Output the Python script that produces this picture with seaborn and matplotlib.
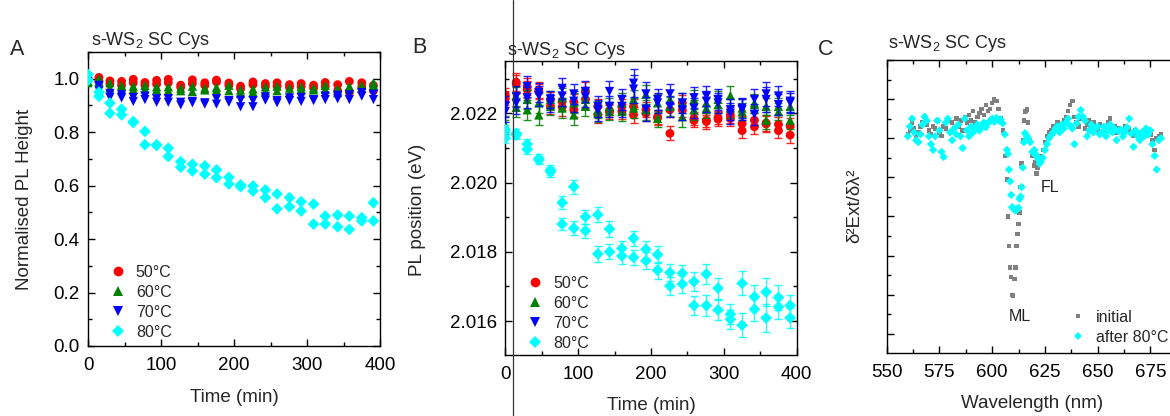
import numpy as np
import pandas as pd
import matplotlib
matplotlib.use("Agg")
import matplotlib.pyplot as plt
import seaborn as sns
from matplotlib.ticker import MultipleLocator
from matplotlib.lines import Line2D

# ---------------- data ----------------
time_min = [0, 15, 30, 46, 62, 78, 94, 110, 127, 143, 160, 176, 193, 209, 226,
            243, 259, 276, 292, 309, 325, 342, 358, 375, 391]
temps = ["50°C", "60°C", "70°C", "80°C"]

# Panel A: normalised PL height (two measurements per time)
height_50_a = [1.00, 1.005, 0.992, 0.99, 0.998, 0.986, 0.994, 0.998, 0.976, 0.996, 0.985, 0.995, 0.984,
               0.972, 0.988, 0.982, 0.985, 0.978, 0.982, 0.976, 0.986, 0.978, 0.99, 0.985, 0.975]
height_50_b = [0.995, 0.99, 0.98, 0.975, 0.985, 0.975, 0.98, 0.985, 0.968, 0.982, 0.975, 0.988, 0.975,
               0.962, 0.978, 0.97, 0.972, 0.968, 0.97, 0.965, 0.972, 0.955, 0.95, 0.97, 0.955]
height_60_a = [0.99, 1.0, 0.985, 0.975, 0.972, 0.975, 0.97, 0.97, 0.965, 0.972, 0.965, 0.968, 0.975,
               0.958, 0.962, 0.97, 0.972, 0.965, 0.97, 0.965, 0.975, 0.962, 0.972, 0.975, 0.985]
height_60_b = [0.985, 0.99, 0.965, 0.96, 0.96, 0.962, 0.958, 0.955, 0.955, 0.952, 0.958, 0.958, 0.955,
               0.945, 0.95, 0.955, 0.955, 0.948, 0.96, 0.958, 0.96, 0.948, 0.962, 0.965, 0.975]
height_70_a = [1.0, 0.975, 0.945, 0.94, 0.93, 0.935, 0.925, 0.925, 0.912, 0.915, 0.91, 0.925, 0.918,
               0.92, 0.918, 0.932, 0.918, 0.928, 0.93, 0.922, 0.935, 0.938, 0.94, 0.948, 0.942]
height_70_b = [0.99, 0.955, 0.93, 0.928, 0.915, 0.922, 0.912, 0.912, 0.902, 0.91, 0.905, 0.905, 0.912,
               0.895, 0.895, 0.92, 0.91, 0.918, 0.915, 0.918, 0.922, 0.925, 0.922, 0.935, 0.922]
height_80_a = [1.016, 0.950, 0.909, 0.886, 0.840, 0.803, 0.753, 0.740, 0.690, 0.680, 0.674, 0.659, 0.631,
               0.603, 0.599, 0.584, 0.569, 0.555, 0.540, 0.531, 0.486, 0.490, 0.486, 0.480, 0.536]
height_80_b = [0.994, 0.934, 0.871, 0.865, 0.836, 0.753, 0.750, 0.709, 0.669, 0.655, 0.643, 0.630, 0.606,
               0.596, 0.580, 0.555, 0.513, 0.521, 0.505, 0.456, 0.456, 0.446, 0.436, 0.468, 0.468]

# Panel B: PL position (eV)
pos_50_a = [2.02253, 2.02290, 2.02277, 2.02267, 2.02239, 2.02234, 2.02234, 2.02265, 2.02220, 2.02208,
            2.02220, 2.02220, 2.02210, 2.02190, 2.02210, 2.02230, 2.02185, 2.02180, 2.02188, 2.02195,
            2.02170, 2.02180, 2.02172, 2.02168, 2.02163]
pos_50_b = [2.02243, 2.02285, 2.02268, 2.02262, 2.02221, 2.02218, 2.02210, 2.02240, 2.02195, 2.02203,
            2.02205, 2.02195, 2.02200, 2.02186, 2.02142, 2.02210, 2.02179, 2.02176, 2.02183, 2.02185,
            2.02150, 2.02161, 2.02169, 2.02150, 2.02137]
pos_60_a = [2.02166, 2.02248, 2.02240, 2.02230, 2.02240, 2.02245, 2.02230, 2.02240, 2.02210, 2.02220,
            2.02230, 2.02240, 2.02255, 2.02230, 2.02240, 2.02230, 2.02240, 2.02230, 2.02240, 2.02251,
            2.02215, 2.02230, 2.02220, 2.02220, 2.02220]
pos_60_b = [2.02157, 2.02217, 2.02210, 2.02195, 2.02220, 2.02215, 2.02195, 2.02220, 2.02200, 2.02205,
            2.02205, 2.02215, 2.02210, 2.02185, 2.02220, 2.02190, 2.02210, 2.02215, 2.02225, 2.02215,
            2.02205, 2.02225, 2.02180, 2.02205, 2.02180]
pos_70_a = [2.02220, 2.02248, 2.02277, 2.02260, 2.02240, 2.02272, 2.02256, 2.02263, 2.02220, 2.02263,
            2.02240, 2.02287, 2.02256, 2.02240, 2.02256, 2.02230, 2.02245, 2.02250, 2.02240, 2.02210,
            2.02215, 2.02240, 2.02256, 2.02250, 2.02235]
pos_70_b = [2.02205, 2.02229, 2.02245, 2.02250, 2.02230, 2.02250, 2.02235, 2.02247, 2.02208, 2.02220,
            2.02220, 2.02270, 2.02212, 2.02230, 2.02220, 2.02210, 2.02215, 2.02235, 2.02230, 2.02200,
            2.02210, 2.02197, 2.02240, 2.02225, 2.02230]
pos_80_a = [2.02152, 2.02142, 2.02111, 2.02069, 2.02036, 2.01942, 2.01988, 2.01901, 2.01907, 2.01866,
            2.01810, 2.01839, 2.01807, 2.01792, 2.01740, 2.01738, 2.01714, 2.01736, 2.01695, 2.01620,
            2.01709, 2.01670, 2.01684, 2.01668, 2.01645]
pos_80_b = [2.02128, 2.02137, 2.02096, 2.02065, 2.02031, 2.01880, 2.01868, 2.01861, 2.01794, 2.01800,
            2.01788, 2.01784, 2.01774, 2.01747, 2.01701, 2.01707, 2.01645, 2.01645, 2.01632, 2.01605,
            2.01588, 2.01634, 2.01609, 2.01641, 2.01609]
err_50 = [0.0002, 0.00025, 0.00025, 0.00022, 0.00022, 0.00025, 0.00022, 0.00025, 0.00022, 0.0002,
          0.00022, 0.00022, 0.00022, 0.0002, 0.0002, 0.00022, 0.0002, 0.0002, 0.0002, 0.00022,
          0.00022, 0.0002, 0.00022, 0.0002, 0.00022]
err_60 = [0.00025, 0.00028, 0.00028, 0.00028, 0.00025, 0.00028, 0.0003, 0.00028, 0.00025, 0.00025,
          0.00028, 0.00028, 0.00028, 0.00025, 0.00028, 0.0003, 0.00028, 0.00028, 0.00025, 0.00028,
          0.00025, 0.00025, 0.00025, 0.00025, 0.00025]
err_70 = [0.0003, 0.0003, 0.0003, 0.00028, 0.00025, 0.0003, 0.0003, 0.0003, 0.0003, 0.0003,
          0.0003, 0.0004, 0.00035, 0.0003, 0.0003, 0.0003, 0.0003, 0.0003, 0.0003, 0.0003,
          0.0003, 0.0003, 0.00035, 0.0003, 0.0003]
err_80 = [0.00015, 0.00012, 0.00015, 0.00012, 0.00015, 0.00018, 0.0002, 0.0002, 0.00022, 0.00022,
          0.00022, 0.00022, 0.00025, 0.00025, 0.00025, 0.00025, 0.00028, 0.0003, 0.0003, 0.00028,
          0.00035, 0.00035, 0.0004, 0.00035, 0.0003]

# Panel C: second derivative of extinction (arb. units)
wavelength = list(range(560, 681))
d2ext_initial = [-0.90, -0.80, -0.60, -0.75, -0.95, -0.85, -0.70, -0.60, -0.45, -0.65,
                 -0.80, -0.90, -0.70, -0.75, -0.55, -0.85, -0.95, -0.70, -0.75, -0.55,
                 -0.85, -0.60, -0.75, -0.50, -0.70, -0.55, -0.80, -0.45, -0.60, -0.40,
                 -0.55, -0.30, -0.60, -0.45, -0.35, -0.25, -0.40, -0.15, -0.30, -0.25,
                 -0.10, 0.00, -0.05, -0.25, -0.50, -0.80, -1.45, -2.05, -3.75, -4.55,
                 -5.02, -4.30, -3.45, -2.90, -1.65, -0.55, -0.30, -0.60, -1.08, -1.45,
                 -1.70, -1.90, -1.65, -1.45, -1.30, -1.10, -0.95, -0.85, -0.80, -0.70,
                 -0.75, -0.60, -0.70, -0.65, -0.55, -0.45, -0.30, -0.15, -0.05, -0.45,
                 -0.60, -0.70, -0.50, -0.45, -0.75, -0.65, -0.55, -0.70, -0.60, -0.80,
                 -0.75, -0.65, -0.85, -0.70, -0.80, -0.60, -0.50, -0.75, -0.70, -0.85,
                 -0.75, -0.80, -0.90, -0.70, -0.80, -0.75, -0.85, -0.95, -0.80, -0.90,
                 -0.85, -0.95, -0.80, -0.90, -0.85, -0.90, -1.05, -1.30, -1.00, -0.95,
                 -0.90]
d2ext_after80 = [-0.95, -0.70, -0.50, -0.85, -1.05, -1.10, -0.90, -0.65, -0.45, -0.55,
                 -0.95, -1.15, -1.30, -0.95, -0.55, -0.80, -1.35, -1.48, -0.60, -0.50,
                 -0.85, -1.05, -0.75, -0.90, -0.65, -0.95, -1.25, -0.50, -0.80, -0.95,
                 -0.70, -0.85, -0.75, -0.65, -0.80, -0.70, -0.60, -0.72, -0.62, -0.55,
                 -0.50, -0.58, -0.48, -0.55, -0.52, -0.62, -0.90, -1.30, -1.80, -2.45,
                 -2.80, -2.84, -2.80, -2.55, -2.25, -1.10, -0.90, -1.00, -1.10, -1.35,
                 -1.30, -1.45, -1.55, -1.60, -1.50, -1.30, -1.15, -1.00, -0.92, -0.85,
                 -0.75, -0.70, -0.85, -0.65, -0.75, -0.60, -0.50, -0.68, -0.75, -1.15,
                 -0.62, -0.45, -0.28, -0.45, -0.55, -0.95, -0.80, -0.65, -0.85, -0.75,
                 -0.70, -0.90, -0.85, -0.70, -0.95, -0.80, -0.65, -0.85, -0.75, -1.05,
                 -0.82, -0.78, -0.95, -0.85, -0.72, -0.50, -0.88, -1.22, -0.80, -0.95,
                 -1.05, -0.85, -0.95, -0.75, -0.90, -0.80, -1.15, -1.45, -1.80, -1.05,
                 -1.00]
wavelength_dip_initial = [607.5, 608.5, 609.5, 610.5, 611.5, 612.5, 613.5, 614.5, 615.5, 616.5, 620.5, 621.5]
d2ext_dip_initial = [-3.00, -4.30, -5.00, -4.60, -3.75, -3.20, -2.25, -1.05, -0.32, -0.27, -1.60, -1.75]
wavelength_dip_after = [607.5, 608.5, 609.5, 610.5, 611.5, 612.5, 613.5, 614.5, 615.5, 616.5, 620.5, 621.5, 622.5]
d2ext_dip_after = [-1.40, -2.10, -2.76, -2.82, -2.84, -2.78, -2.49, -1.75, -0.87, -0.95, -1.40, -1.50, -1.65]

# ---------------- style ----------------
sns.set_theme(style="ticks")
plt.rcParams["font.family"] = ["Liberation Sans", "DejaVu Sans"]
plt.rcParams["mathtext.fontset"] = "custom"
plt.rcParams["mathtext.rm"] = "Liberation Sans"
plt.rcParams["mathtext.it"] = "Liberation Sans:italic"
plt.rcParams["axes.edgecolor"] = "black"
plt.rcParams["axes.linewidth"] = 1.0

colors = {"50°C": "#FF0000", "60°C": "#008000", "70°C": "#0000FF", "80°C": "#00FFFF"}
markers = {"50°C": "o", "60°C": "^", "70°C": "v", "80°C": "D"}
msize = {"50°C": 40, "60°C": 44, "70°C": 44, "80°C": 36}

W, H = 1170, 416
fig = plt.figure(figsize=(W / 100, H / 100), dpi=100)


def px_axes(l, r, t, b):
    return fig.add_axes([l / W, 1 - b / H, (r - l) / W, (b - t) / H])


axA = px_axes(88, 380, 52, 346)
axB = px_axes(505.3, 796.7, 61, 355)
axC = px_axes(886.7, 1182, 60, 353)

TICK = 13.5


def style_axes(ax, xmaj, xmin, ymaj, ymin):
    ax.xaxis.set_major_locator(MultipleLocator(xmaj))
    ax.xaxis.set_minor_locator(MultipleLocator(xmin))
    ax.yaxis.set_major_locator(MultipleLocator(ymaj))
    ax.yaxis.set_minor_locator(MultipleLocator(ymin))
    ax.tick_params(which="both", direction="in", top=True, right=True, colors="black",
                   labelsize=TICK, width=1.0)
    ax.tick_params(which="major", length=5)
    ax.tick_params(which="minor", length=3)
    ax.tick_params(axis="x", pad=8)
    ax.tick_params(axis="y", pad=6)
    for s in ax.spines.values():
        s.set_visible(True)
        s.set_linewidth(1.0)
        s.set_color("black")
    ax.set_xlabel("")
    ax.set_ylabel("")


def legend_px(ax, handles, labels, left, top, fs=11.5):
    ax.legend(handles, labels, loc="upper left", bbox_to_anchor=(left / W, 1 - top / H),
              bbox_transform=fig.transFigure, frameon=False, borderpad=0, borderaxespad=0,
              handlelength=1.0, handletextpad=0.62, labelspacing=0.31, fontsize=fs)


# ---------------- Panel A ----------------
heights = {"50°C": (height_50_a, height_50_b), "60°C": (height_60_a, height_60_b),
           "70°C": (height_70_a, height_70_b), "80°C": (height_80_a, height_80_b)}
rowsA = []
for tp in temps:
    for rep, vals in zip("ab", heights[tp]):
        for t, v in zip(time_min, vals):
            rowsA.append({"time": t, "value": v, "temp": tp, "rep": rep})
dfA = pd.DataFrame(rowsA)
for tp in temps:
    sub = dfA[dfA.temp == tp]
    sns.scatterplot(data=sub, x="time", y="value", color=colors[tp], marker=markers[tp],
                    s=msize[tp], edgecolor="none", linewidth=0, ax=axA, legend=False, zorder=3)
axA.set_xlim(0, 400)
axA.set_ylim(0, 1.1)
style_axes(axA, 100, 50, 0.2, 0.1)
axA.yaxis.set_major_formatter(matplotlib.ticker.FormatStrFormatter("%.1f"))

handles = [Line2D([], [], ls="none", marker=markers[tp], color=colors[tp], markersize=7 if tp != "80°C" else 6.2,
                  markeredgewidth=0) for tp in temps]
legend_px(axA, handles, temps, 110, 265)

# ---------------- Panel B ----------------
positions = {"50°C": (pos_50_a, pos_50_b), "60°C": (pos_60_a, pos_60_b),
             "70°C": (pos_70_a, pos_70_b), "80°C": (pos_80_a, pos_80_b)}
errors = {"50°C": err_50, "60°C": err_60, "70°C": err_70, "80°C": err_80}
rowsB = []
for tp in temps:
    for rep, vals in zip("ab", positions[tp]):
        for t, v, e in zip(time_min, vals, errors[tp]):
            rowsB.append({"time": t, "value": v, "err": e, "temp": tp, "rep": rep})
dfB = pd.DataFrame(rowsB)
for i, tp in enumerate(temps):
    for rep in "ab":
        sub = dfB[(dfB.temp == tp) & (dfB.rep == rep)]
        axB.errorbar(sub["time"], sub["value"], yerr=sub["err"], fmt="none", ecolor=colors[tp],
                     elinewidth=1.0, capsize=2.8, capthick=1.0, alpha=0.85, zorder=2 + i)
    sub = dfB[dfB.temp == tp]
    sns.scatterplot(data=sub, x="time", y="value", color=colors[tp], marker=markers[tp],
                    s=msize[tp], edgecolor="none", linewidth=0, ax=axB, legend=False, zorder=2.5 + i)
axB.set_xlim(0, 400)
axB.set_ylim(2.01502, 2.02351)
style_axes(axB, 100, 50, 0.002, 0.001)
axB.yaxis.set_major_formatter(matplotlib.ticker.FormatStrFormatter("%.3f"))
legend_px(axB, handles, temps, 527, 276)

# ---------------- Panel C ----------------
dfC = pd.DataFrame({
    "wavelength": wavelength + wavelength_dip_initial + wavelength + wavelength_dip_after,
    "value": d2ext_initial + d2ext_dip_initial + d2ext_after80 + d2ext_dip_after,
    "state": ["initial"] * (len(wavelength) + len(wavelength_dip_initial))
             + ["after 80°C"] * (len(wavelength) + len(wavelength_dip_after)),
})
sns.scatterplot(data=dfC[dfC.state == "initial"], x="wavelength", y="value", color="#808080",
                marker="s", s=10, edgecolor="none", linewidth=0, ax=axC, legend=False, zorder=3)
sns.scatterplot(data=dfC[dfC.state == "after 80°C"], x="wavelength", y="value", color="#00FFFF",
                marker="D", s=18, edgecolor="none", linewidth=0, ax=axC, legend=False, zorder=4)
axC.set_xlim(550, 690)
axC.set_ylim(-6.49, 1.0)
style_axes(axC, 25, 12.5, 1, 0.5)
axC.tick_params(labelleft=False, labelright=False)
axC.text(613, -5.55, "ML", ha="center", va="center", fontsize=11.5, color="#222222")
axC.text(622.8, -2.27, "FL", ha="left", va="center", fontsize=11.5, color="#222222")
handlesC = [Line2D([], [], ls="none", marker="s", color="#808080", markersize=3.2, markeredgewidth=0),
            Line2D([], [], ls="none", marker="D", color="#00FFFF", markersize=4.2, markeredgewidth=0)]
legend_px(axC, handlesC, ["initial", "after 80°C"], 1070, 310)

# ---------------- figure texts ----------------
title = "s-WS$_2$ SC Cys"
fig.text(91 / W, 1 - 45 / H, title, fontsize=13, va="baseline", ha="left")
fig.text(507 / W, 1 - 55 / H, title, fontsize=13, va="baseline", ha="left")
fig.text(888 / W, 1 - 48 / H, title, fontsize=13, va="baseline", ha="left")
fig.text(10 / W, 1 - 55 / H, "A", fontsize=15.5, va="baseline", ha="left")
fig.text(412 / W, 1 - 53 / H, "B", fontsize=15.5, va="baseline", ha="left")
fig.text(818 / W, 1 - 55 / H, "C", fontsize=15.5, va="baseline", ha="left")

fig.text(25 / W, 1 - 199 / H, "Normalised PL Height", rotation=90, fontsize=TICK, ha="center", va="center")
fig.text(418 / W, 1 - 210 / H, "PL position (eV)", rotation=90, fontsize=TICK, ha="center", va="center")
fig.text(855 / W, 1 - 206 / H, "δ²Ext/δλ²", rotation=90, fontsize=TICK, ha="center", va="center")
fig.text(234 / W, 1 - 397 / H, "Time (min)", fontsize=TICK, ha="center", va="center")
fig.text(651 / W, 1 - 405 / H, "Time (min)", fontsize=TICK, ha="center", va="center")
fig.text(1032 / W, 1 - 403 / H, "Wavelength (nm)", fontsize=TICK, ha="center", va="center")

# thin vertical line crossing panel B (present in the original figure)
fig.add_artist(Line2D([512.7 / W, 512.7 / W], [0, 1], transform=fig.transFigure,
                      color="#333333", lw=0.9))

fig.savefig("out.png", dpi=100)
